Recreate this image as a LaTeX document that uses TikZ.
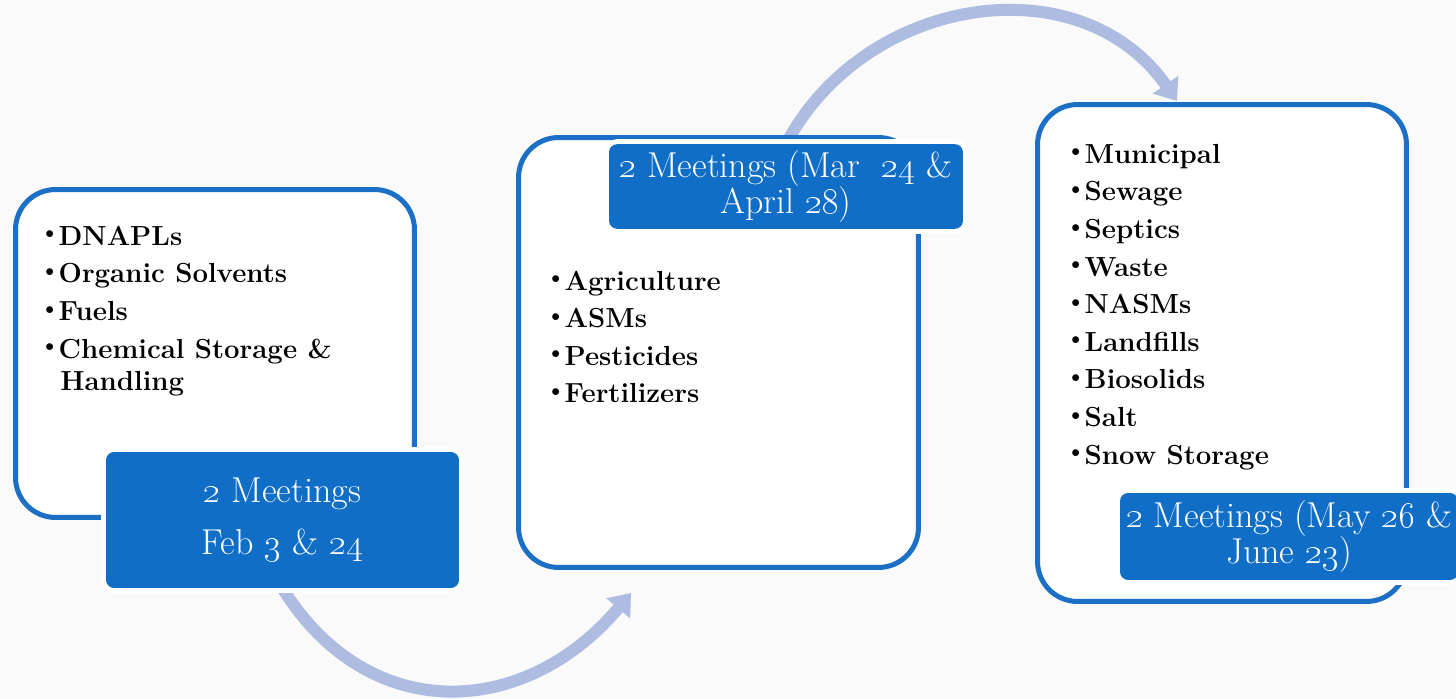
\documentclass[tikz,border=0pt]{standalone}
\usepackage{tikz}
\usetikzlibrary{arrows.meta}
\pgfdeclarelayer{back}
\pgfsetlayers{back,main}
\definecolor{frameblue}{HTML}{1B6FC4}
\definecolor{meetblue}{HTML}{116EC6}
\definecolor{flowblue}{HTML}{ADBCE0}
\definecolor{paper}{HTML}{FAFAFA}
\newcommand{\bul}{\makebox[7.6pt][l]{\raisebox{3.6pt}{\fontsize{10}{10}\selectfont$\bullet$}}}
\newcommand{\os}[1]{\oldstylenums{#1}}

\begin{document}
\begin{tikzpicture}[x=0.02cm,y=-0.02cm,
  grp/.style={draw=frameblue,line width=0.1cm,fill=white,rounded corners=0.8cm},
  meet/.style={fill=meetblue,text=white,rounded corners=0.16cm,
    preaction={draw=white,line width=0.2cm},align=center,
    font=\fontsize{20.5}{21}\selectfont},
  item/.style={anchor=base west,inner sep=0pt,font=\fontsize{15.7}{18}\selectfont\bfseries},
  flow/.style={draw=flowblue,line width=0.24cm,-{Triangle[width=0.6cm,length=0.4cm]}}]
\useasboundingbox (0,0) rectangle (1456,699);
\node[grp,minimum width=7.98cm,minimum height=6.56cm] (g1) at (215,353.5) {};
\node[grp,minimum width=8.0cm,minimum height=8.6cm] (g2) at (718.5,352.5) {};
\node[grp,minimum width=7.38cm,minimum height=9.94cm] (g3) at (1222,353) {};
\foreach \t [count=\i from 0] in {DNAPLs,Organic Solvents,Fuels,Chemical Storage \&}
  \node[item] (d\i) at (45,245+37.7*\i) {\bul\t};
\node[item] (d4) at (60,390) {Handling};
\foreach \t [count=\i from 0] in {Agriculture,ASMs,Pesticides,Fertilizers}
  \node[item] (a\i) at (551,290+37.6*\i) {\bul\t};
\foreach \t [count=\i from 0] in {Municipal,Sewage,Septics,Waste,NASMs,Landfills,Biosolids,Salt,Snow Storage}
  \node[item] (s\i) at (1071,163.3+37.6*\i) {\bul\t};
\node[meet,minimum width=7.06cm,minimum height=2.72cm] (m1) at (282.5,520)
  {\os{2} Meetings\\[8.5pt] Feb \os{3} \& \os{24}};
\node[meet,minimum width=7.08cm,minimum height=1.66cm] (m2) at (786,186.5)
  {\os{2} Meetings (Mar\ \ \os{24} \&\\April \os{28})};
\node[meet,minimum width=6.76cm,minimum height=1.74cm] (m3) at (1289,536.5)
  {\os{2} Meetings (May \os{26} \&\\June \os{23})};
\coordinate (a1e) at (631,593);
\coordinate (a2e) at (1177,101);
\begin{pgfonlayer}{back}
\fill[paper] (0,0) rectangle (1456,699);
\draw[flow] (m1.south) to[out=-58,in=-130,looseness=1.2] (a1e);
\draw[flow] (m2.north) to[out=62,in=125,looseness=1.1] (a2e);
\end{pgfonlayer}
\end{tikzpicture}
\end{document}
